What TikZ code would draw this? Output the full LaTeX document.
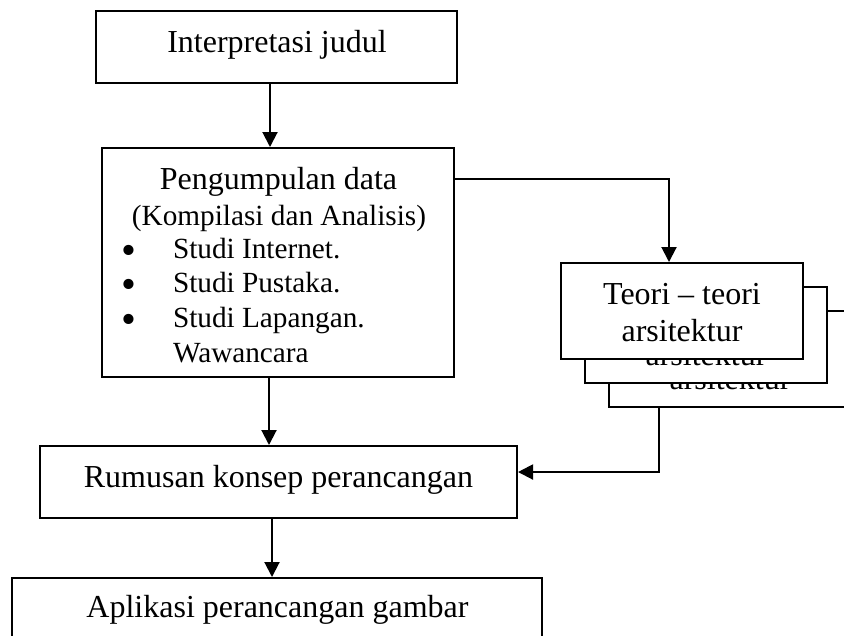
\documentclass[tikz,border=0pt]{standalone}
\usepackage{fontspec}
\setmainfont{Liberation Serif}
\usetikzlibrary{arrows.meta}
\begin{document}
\begin{tikzpicture}[x=0.4pt, y=-0.4pt, line width=0.8pt,
  kotak/.style={draw, inner sep=0pt},
  teks/.style={inner sep=0pt, anchor=base, font=\fontsize{12.8}{14.7}\selectfont},
  kecil/.style={teks, font=\fontsize{11.7}{13.8}\selectfont},
  panah/.style={-{Triangle[length=6pt,width=6pt]}}]
\useasboundingbox (0,0) rectangle (844,635);
\clip (0,0) rectangle (844,635);
% kotak-kotak utama
\node[kotak, minimum width=144.4pt, minimum height=28.8pt] (judul) at (276.5,47) {};
\node[teks] (tjudul) at (277,52) {Interpretasi judul};
\node[kotak, minimum width=140.8pt, minimum height=91.6pt] (data) at (278,262.5) {};
\node[teks] (tdata1) at (278.5,189) {Pengumpulan data};
\node[kecil] (tdata2) at (279,225) {(Kompilasi dan Analisis)};
\foreach \y/\t [count=\i] in {258/Studi Internet., 292/Studi Pustaka., 327/Studi Lapangan., 362/Wawancara}
  \node[kecil, anchor=base west] (studi\i) at (172,\y) {\t};
\foreach \y [count=\i] in {258,292,327}
  \node[teks, font=\fontsize{17}{17}\selectfont] (titik\i) at (129,\y+6) {•};
% teori - teori arsitektur (bertumpuk)
\foreach \d in {48,24,0}{
  \node[kotak, fill=white, minimum width=96.8pt, minimum height=38.4pt] (teori\d) at ({682+\d},{311+\d}) {};
  \node[teks] (tteori\d) at ({682+\d},{304+\d}) {Teori – teori};
  \node[teks] (tarsi\d) at ({682+\d},{341+\d}) {arsitektur};
}
\node[kotak, minimum width=190.8pt, minimum height=28.8pt] (rumusan) at (278.5,482) {};
\node[teks] (trumusan) at (278.5,487) {Rumusan konsep perancangan};
\node[kotak, minimum width=212pt, minimum height=28.8pt] (aplikasi) at (277,614) {};
\node[teks] (taplikasi) at (277.5,617) {Aplikasi perancangan gambar};
% panah
\coordinate (p1) at (270,0);
\coordinate (p2) at (269,0);
\coordinate (p3) at (272,0);
\coordinate (b1) at (669,179);
\coordinate (b2) at (659,472);
\draw[panah] (judul.south -| p1) -- (data.north -| p1);
\draw[panah] (data.south -| p2) -- (rumusan.north -| p2);
\draw[panah] (rumusan.south -| p3) -- (aplikasi.north -| p3);
\draw[panah] (data.east |- b1) -- (b1) -- (teori0.north -| b1);
\draw[panah] (teori48.south -| b2) -- (b2) -- (rumusan.east |- b2);
\end{tikzpicture}
\end{document}
